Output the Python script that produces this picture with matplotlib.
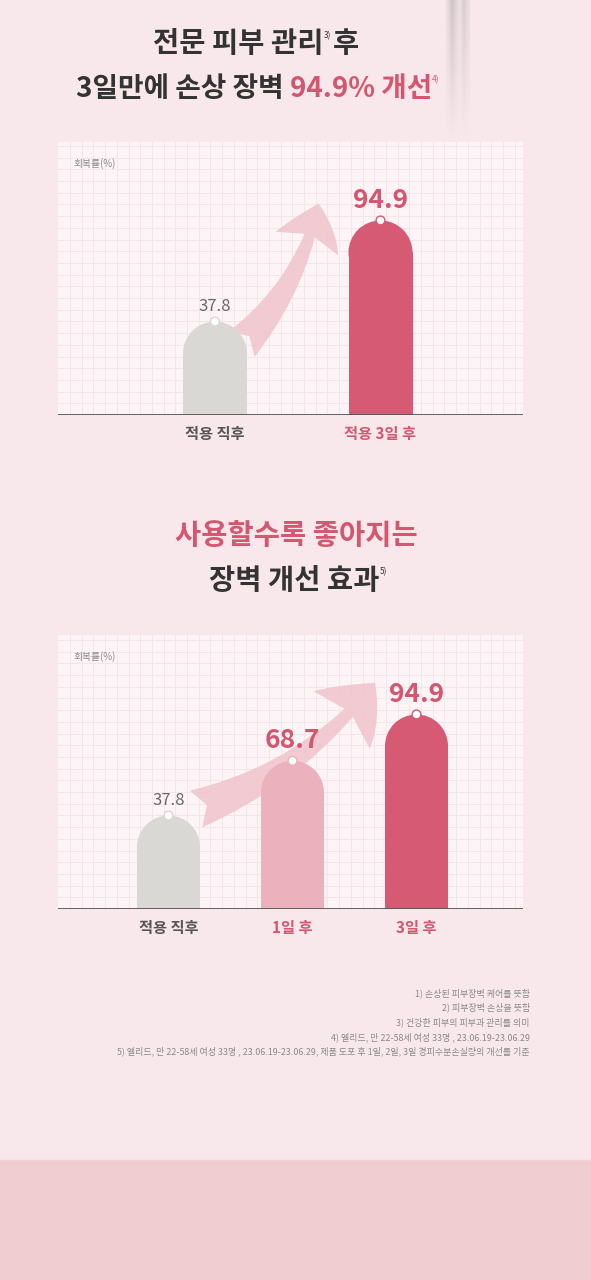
import numpy as np
import matplotlib
matplotlib.use("Agg")
import matplotlib.pyplot as plt
from matplotlib.patches import Rectangle, Ellipse, FancyArrowPatch

FONT = ['Noto Sans CJK KR', 'DejaVu Sans']
plt.rcParams['font.family'] = FONT

# ---------------- data ----------------
c1_categories = ['적용 직후', '적용 3일 후']
c1_values = [37.8, 94.9]
c2_categories = ['적용 직후', '1일 후', '3일 후']
c2_values = [37.8, 68.7, 94.9]
y_label = '회복률(%)'
footnotes = [
    '1) 손상된 피부장벽 케어를 뜻함',
    '2) 피부장벽 손상을 뜻함',
    '3) 건강한 피부의 피부과 관리를 의미',
    '4) 엘리드, 만 22-58세 여성 33명 , 23.06.19-23.06.29',
    '5) 엘리드, 만 22-58세 여성 33명 , 23.06.19-23.06.29, 제품 도포 후 1일, 2일, 3일 경피수분손실량의 개선를 기준',
]

# ---------------- style ----------------
W, H = 591, 1280
BG = '#f9e8eb'
PANEL = '#fcf4f6'
GRID = '#f3e5e8'
DARK = '#333333'
PINK_TXT = '#d4566f'
GRAY_TXT = '#6a6a6a'
RED = '#d65a74'
LPINK = '#ebb2bd'
GRAY = '#d9d8d5'
ARROW = '#f1c3cb'

fig = plt.figure(figsize=(W / 100, H / 100), dpi=100, facecolor=BG)

# background overlay in pixel units
bg = fig.add_axes([0, 0, 1, 1], zorder=-10)
bg.set_xlim(0, W); bg.set_ylim(H, 0); bg.axis('off')
bg.add_patch(Rectangle((0, 1159), W, H - 1159, color='#f0cdd1', lw=0))
bg.plot([0, W], [1159, 1159], color='#fbe0e3', lw=1)
# top vertical light streaks decoration
grad = np.linspace(0.45, 0.0, 140)[:, None] * np.array([0.3, 0.9, 0.5, 0.2, 0.7, 0.3])[None, :]
img = np.zeros((140, 6, 4))
img[..., :3] = 0.55
img[..., 3] = grad
bg.imshow(img, extent=(446, 470, 140, 0), aspect='auto', interpolation='bilinear', zorder=1)


def px_axes(x0, x1, ytop, ybot):
    return [x0 / W, 1 - ybot / H, (x1 - x0) / W, (ybot - ytop) / H]


def rich_line(pieces, xc, y_base):
    """pieces: (text, color, fontsize, weight, dy_px, gap_after_px)"""
    r = fig.canvas.get_renderer()
    objs = []
    total = 0
    for txt, col, sz, wt, dy, gap in pieces:
        t = fig.text(0, 0, txt, color=col, fontsize=sz, fontweight=wt,
                     family=FONT, va='baseline', ha='left')
        w = t.get_window_extent(r).width
        objs.append((t, dy, w, gap))
        total += w + gap
    x = xc - total / 2
    for t, dy, w, gap in objs:
        t.set_position((x / W, 1 - (y_base - dy) / H))
        x += w + gap


def draw_chart(cats, vals, colors, lblcolors, valcolors, valsizes,
               x0, x1, ytop, ybase, centers_px, barw_px, arrow_pts):
    # panel with grid
    pan = fig.add_axes(px_axes(x0, x1, ytop, ybase), zorder=0)
    pan.set_facecolor(PANEL)
    pw, ph = x1 - x0, ybase - ytop
    pan.set_xlim(0, pw); pan.set_ylim(0, ph)
    pan.set_xticks(np.arange(12, pw, 11.7)); pan.set_yticks(np.arange(11.7, ph, 11.7))
    pan.grid(True, color=GRID, lw=0.7)
    pan.tick_params(length=0, labelbottom=False, labelleft=False)
    for s in pan.spines.values():
        s.set_visible(False)

    ax = fig.add_axes(px_axes(x0, x1, ytop, ybase), zorder=1)
    ax.set_facecolor('none')
    step = centers_px[1] - centers_px[0]
    n = len(vals)
    pos = np.arange(n)
    ppu = 1.77  # pixels per value unit
    y0 = -15
    ax.set_xlim(-(centers_px[0] - x0) / step, (n - 1) + (x1 - centers_px[-1]) / step)
    ax.set_ylim(y0, y0 + ph / ppu)
    bw = barw_px / step
    ry = (barw_px / 2) / ppu

    # arrow (behind bars)
    (ax_t, ay_t), (ax_h, ay_h), hw, hl, tw, rad = arrow_pts
    arr = FancyArrowPatch((ax_t, ay_t), (ax_h, ay_h),
                          connectionstyle=f'arc3,rad={rad}',
                          arrowstyle=f'fancy,head_width={hw},head_length={hl},tail_width={tw}',
                          color=ARROW, alpha=0.85, lw=0, zorder=1, mutation_scale=1)
    ax.add_patch(arr)

    for p, v, c in zip(pos, vals, colors):
        ax.add_patch(Rectangle((p - bw / 2, y0), bw, v - ry - y0, color=c, lw=0, zorder=2))
        ax.add_patch(Ellipse((p, v - ry), bw, 2 * ry, color=c, lw=0, zorder=2))
    ax.scatter(pos, vals, s=40, facecolor='white', edgecolor=colors, linewidths=1.0, zorder=4)
    for p, v, c, s in zip(pos, vals, valcolors, valsizes):
        off = 4.5 if s < 15 else 5
        ax.annotate(f'{v:.1f}', (p, v), xytext=(0, off), textcoords='offset points',
                    ha='center', va='bottom', color=c, fontsize=s,
                    fontweight='bold' if s >= 15 else 'medium', zorder=5)
    ax.axhline(y0, color='#555555', lw=1.3, zorder=3)
    ax.set_xticks(pos)
    ax.set_xticklabels(cats, fontsize=11, fontweight='bold')
    for tl, c in zip(ax.get_xticklabels(), lblcolors):
        tl.set_color(c)
    ax.tick_params(axis='x', length=0, pad=8)
    ax.set_yticks([])
    for s in ax.spines.values():
        s.set_visible(False)
    ax.text((73 - x0) / (x1 - x0), 1 - 22 / ph, y_label, transform=ax.transAxes,
            fontsize=7, color='#8a8a8a', ha='left', va='center')
    return ax


# ---------------- titles ----------------
rich_line([('전문 피부 관리', DARK, 20.5, 'bold', 0, 0),
           ('3)', DARK, 6, 'medium', 14, 2),
           ('후', DARK, 20.5, 'bold', 0, 0)], 256, 52)
rich_line([('3일만에 손상 장벽', DARK, 20, 'bold', 0, 6),
           ('94.9% 개선', PINK_TXT, 20, 'bold', 0, 0),
           ('4)', PINK_TXT, 6, 'medium', 15, 0)], 258, 97)

rich_line([('사용할수록 좋아지는', PINK_TXT, 20.5, 'bold', 0, 0)], 296, 544)
rich_line([('장벽 개선 효과', DARK, 20.5, 'bold', 0, 1),
           ('5)', DARK, 6, 'medium', 15, 0)], 298, 589)

# ---------------- charts ----------------
draw_chart(c1_categories, c1_values, [GRAY, RED], ['#555555', PINK_TXT],
           [GRAY_TXT, PINK_TXT], [12, 19],
           58, 523, 142, 415, [215, 380.5], 64,
           ((0.15, 24), (0.63, 106), 48, 30, 26, 0.15))

draw_chart(c2_categories, c2_values, [GRAY, LPINK, RED], ['#555555', PINK_TXT, PINK_TXT],
           [GRAY_TXT, PINK_TXT, PINK_TXT], [12, 19, 19],
           58, 523, 635, 909, [168.5, 292.5, 416.5], 63,
           ((0.2, 41), (1.68, 114), 58, 36, 28, 0.15))

# ---------------- footnotes ----------------
for i, t in enumerate(footnotes):
    fig.text(530 / W, 1 - [993, 1007, 1022, 1037, 1051][i] / H, t, ha='right', va='center',
             fontsize=6.45, color='#8a8a8a')

fig.savefig('out.png', dpi=100, facecolor=BG)
